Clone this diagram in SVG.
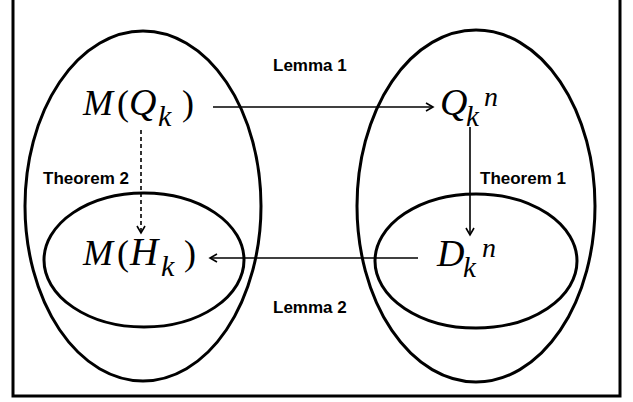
<svg xmlns="http://www.w3.org/2000/svg" width="633" height="402" viewBox="0 0 633 402">
  <defs>
    <marker id="arr" markerUnits="userSpaceOnUse" markerWidth="12" markerHeight="12" refX="8" refY="5" orient="auto">
      <path d="M1,1 L8,5 L1,9" fill="none" stroke="#000" stroke-width="1.6"/>
    </marker>
    <style>
      .set { fill: none; stroke: #000; stroke-width: 3; }
      .math { font-family: "Liberation Serif", "DejaVu Serif", serif; font-style: italic; fill: #000; }
      .up { font-style: normal; }
      .lbl { font-family: "Liberation Sans", Arial, sans-serif; font-weight: bold; font-size: 17px; fill: #000; }
      .conn { fill: none; stroke: #000; stroke-width: 1.6; marker-end: url(#arr); }
    </style>
  </defs>
  <rect x="13" y="-10" width="607" height="406" fill="#fff" stroke="#000" stroke-width="3"/>

  <g id="set-left">
    <ellipse class="set" cx="143" cy="206" rx="118" ry="175"/>
  </g>
  <g id="set-right">
    <ellipse class="set" cx="476" cy="206" rx="119" ry="176"/>
  </g>
  <g id="subset-left">
    <ellipse class="set" cx="144" cy="260" rx="100" ry="67"/>
  </g>
  <g id="subset-right">
    <ellipse class="set" cx="476" cy="261" rx="101" ry="67"/>
  </g>

  <g id="node-MQk">
    <text class="math" font-size="36"><tspan x="83" y="115">M</tspan><tspan class="up" x="117" y="115">(</tspan><tspan x="129" y="115" font-size="38">Q</tspan><tspan x="158" y="126" font-size="30">k</tspan><tspan class="up" x="182" y="115">)</tspan></text>
  </g>
  <g id="node-Qkn">
    <text class="math" font-size="36"><tspan x="440" y="115" font-size="38">Q</tspan><tspan x="466" y="126" font-size="29">k</tspan><tspan x="484" y="106" font-size="28">n</tspan></text>
  </g>
  <g id="node-MHk">
    <text class="math" font-size="36"><tspan x="83" y="265">M</tspan><tspan class="up" x="117" y="265">(</tspan><tspan x="130" y="265" font-size="39">H</tspan><tspan x="161" y="276" font-size="30">k</tspan><tspan class="up" x="184" y="265">)</tspan></text>
  </g>
  <g id="node-Dkn">
    <text class="math" font-size="36"><tspan x="437" y="266" font-size="38">D</tspan><tspan x="463" y="277" font-size="29">k</tspan><tspan x="482" y="257" font-size="28">n</tspan></text>
  </g>

  <g id="connectors">
    <line class="conn" x1="213" y1="107" x2="433" y2="107"/>
    <line class="conn" x1="470" y1="127" x2="470" y2="235"/>
    <line class="conn" x1="418" y1="258" x2="210" y2="258"/>
    <line class="conn" x1="141" y1="130" x2="141" y2="233" stroke-dasharray="4 3"/>
  </g>

  <g id="labels">
    <text class="lbl" x="273" y="71">Lemma 1</text>
    <text class="lbl" x="273" y="313">Lemma 2</text>
    <text class="lbl" x="43" y="184">Theorem 2</text>
    <text class="lbl" x="480" y="184">Theorem 1</text>
  </g>
</svg>
